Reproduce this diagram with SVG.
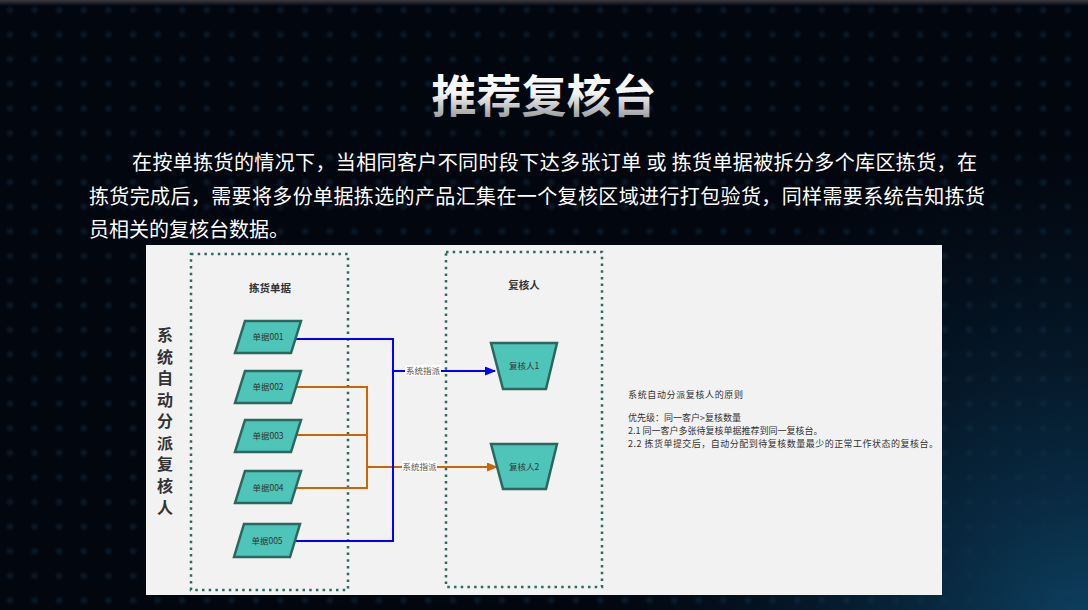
<svg xmlns="http://www.w3.org/2000/svg" width="1088" height="610" viewBox="0 0 1088 610">
<defs>
<style>
text{font-family:"Noto Sans CJK SC","Liberation Sans",sans-serif;}
.para{fill:#ffffff;font-size:20px;}
.lbl{fill:#333333;font-size:8.5px;text-anchor:middle;}
.ttl{fill:#333333;font-size:10.5px;font-weight:bold;text-anchor:middle;}
.vert{fill:#333333;font-size:16px;font-weight:bold;writing-mode:vertical-rl;letter-spacing:5.5px;}
.note{fill:#333333;font-size:9px;}
.elbl{fill:#555555;font-size:8.5px;text-anchor:middle;}
.box{fill:none;stroke:#2b6a62;stroke-width:2.5;stroke-dasharray:2.5 4.2;}
.doc{fill:#4fc4b8;stroke:#2b6660;stroke-width:2.5;}
.blue{fill:none;stroke:#0000ff;stroke-width:2;}
.orange{fill:none;stroke:#cc6600;stroke-width:2;}
</style>
<radialGradient id="dotg">
<stop offset="0" stop-color="#12304a" stop-opacity="0.55"/>
<stop offset="1" stop-color="#12304a" stop-opacity="0"/>
</radialGradient>
<pattern id="grid" x="-2" y="-2" width="24.6" height="24.6" patternUnits="userSpaceOnUse">
<circle cx="12" cy="12" r="5" fill="url(#dotg)"/>
</pattern>
<radialGradient id="glow" cx="1088" cy="640" r="520" gradientUnits="userSpaceOnUse">
<stop offset="0" stop-color="#0f4a6e" stop-opacity="0.9"/>
<stop offset="0.5" stop-color="#0a3452" stop-opacity="0.45"/>
<stop offset="1" stop-color="#061a2c" stop-opacity="0"/>
</radialGradient>
<linearGradient id="topband" x1="0" y1="0" x2="0" y2="1">
<stop offset="0" stop-color="#3a3a3e"/>
<stop offset="1" stop-color="#3a3a3e" stop-opacity="0"/>
</linearGradient>
<linearGradient id="titleg" x1="0" y1="0" x2="0" y2="1">
<stop offset="0" stop-color="#ffffff"/>
<stop offset="0.5" stop-color="#f4f4f4"/>
<stop offset="1" stop-color="#7e7e84"/>
</linearGradient>
<marker id="arrB" markerUnits="userSpaceOnUse" markerWidth="11" markerHeight="9" refX="10" refY="4.5" orient="auto">
<path d="M0,0 L11,4.5 L0,9 Z" fill="#0000ff"/>
</marker>
<marker id="arrO" markerUnits="userSpaceOnUse" markerWidth="11" markerHeight="9" refX="10" refY="4.5" orient="auto">
<path d="M0,0 L11,4.5 L0,9 Z" fill="#cc6600"/>
</marker>
</defs>

<!-- background -->
<rect x="0" y="0" width="1088" height="610" fill="#02060e"/>
<rect x="0" y="0" width="1088" height="610" fill="url(#glow)"/>
<rect x="0" y="0" width="1088" height="610" fill="url(#grid)"/>
<rect x="0" y="0" width="1088" height="6" fill="url(#topband)"/>

<!-- title -->
<text x="544" y="113" text-anchor="middle" font-size="45" font-weight="bold" fill="url(#titleg)" style="font-family:'Noto Sans CJK SC','Liberation Sans',sans-serif;">推荐复核台</text>

<!-- paragraph -->
<text class="para" x="132" y="170" textLength="845" lengthAdjust="spacing">在按单拣货的情况下，当相同客户不同时段下达多张订单 或 拣货单据被拆分多个库区拣货，在</text>
<text class="para" x="89" y="204" textLength="896" lengthAdjust="spacing">拣货完成后，需要将多份单据拣选的产品汇集在一个复核区域进行打包验货，同样需要系统告知拣货</text>
<text class="para" x="89" y="237">员相关的复核台数据。</text>

<!-- diagram panel -->
<rect x="146" y="245" width="796" height="350" fill="#f2f2f2"/>

<g id="vertical-label">
<text class="vert" x="165" y="327">系统自动分派复核人</text>
</g>

<g id="container-docs">
<rect class="box" x="191" y="254" width="157" height="336"/>
<text class="ttl" x="270" y="292">拣货单据</text>
</g>

<g id="container-reviewers">
<rect class="box" x="446" y="252" width="156" height="335"/>
<text class="ttl" x="524" y="289">复核人</text>
</g>

<g id="connectors">
<path class="orange" d="M296,387 H367 V488 H295"/>
<path class="orange" d="M296,435 H367"/>
<path class="orange" d="M367,467 H497" marker-end="url(#arrO)"/>
<path class="blue" d="M295,339 H393 V541 H295"/>
<path class="blue" d="M393,371 H495" marker-end="url(#arrB)"/>
<rect x="405" y="365" width="36" height="11" fill="#ffffff"/>
<text class="elbl" x="423" y="374">系统指派</text>
<rect x="402" y="461" width="35" height="11" fill="#ffffff"/>
<text class="elbl" x="419.5" y="470">系统指派</text>
</g>

<g id="doc001">
<polygon class="doc" points="245,321 301,321 291,353 235,353"/>
<text class="lbl" x="268" y="340">单据001</text>
</g>
<g id="doc002">
<polygon class="doc" points="245,371 301,371 291,403 235,403"/>
<text class="lbl" x="268" y="390">单据002</text>
</g>
<g id="doc003">
<polygon class="doc" points="245,420 301,420 291,452 235,452"/>
<text class="lbl" x="268" y="439">单据003</text>
</g>
<g id="doc004">
<polygon class="doc" points="245,471 301,471 291,503 235,503"/>
<text class="lbl" x="268" y="491">单据004</text>
</g>
<g id="doc005">
<polygon class="doc" points="244,524 300,524 290,557 234,557"/>
<text class="lbl" x="267" y="544">单据005</text>
</g>

<g id="reviewer1">
<polygon class="doc" points="491,343 557,343 546,389 503,389"/>
<text class="lbl" x="524" y="369">复核人1</text>
</g>
<g id="reviewer2">
<polygon class="doc" points="491,444 557,444 546,489 503,489"/>
<text class="lbl" x="524" y="470">复核人2</text>
</g>

<g id="rules-note">
<text class="note" x="628" y="398" textLength="115" lengthAdjust="spacing">系统自动分派复核人的原则</text>
<text class="note" x="628" y="420.5">优先级：同一客户&gt;复核数量</text>
<text class="note" x="628" y="433.5">2.1 同一客户多张待复核单据推荐到同一复核台。</text>
<text class="note" x="628" y="446.5" textLength="310" lengthAdjust="spacing">2.2 拣货单提交后，自动分配到待复核数量最少的正常工作状态的复核台。</text>
</g>
</svg>
